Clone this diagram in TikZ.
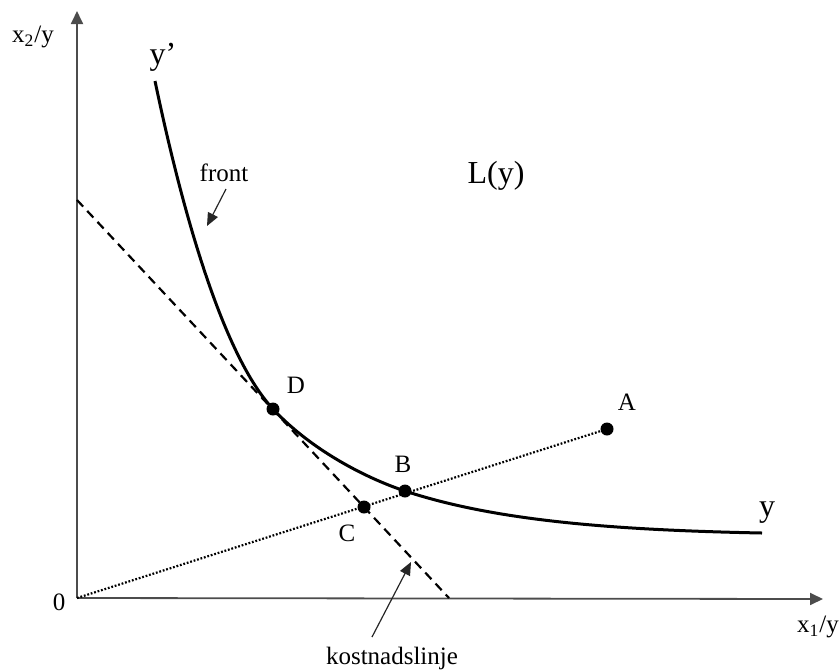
\documentclass[tikz,border=0pt]{standalone}
\usepackage{fontspec}
\setmainfont{Liberation Serif}
\usetikzlibrary{arrows.meta}
\begin{document}
\begin{tikzpicture}[x=0.5pt, y=-0.5pt,
  axis/.style={black!70, line width=0.9pt, -{Triangle[length=6.5pt, width=6pt]}},
  pointer/.style={black!85, line width=0.6pt, -{Triangle[length=6.5pt, width=5.5pt]}},
  isoquant/.style={line width=1.5pt},
  costline/.style={line width=1.1pt, dash pattern=on 4.5pt off 3pt},
  ray/.style={line width=1.1pt, dash pattern=on 0.9pt off 0.9pt},
  dot/.style={circle, fill, inner sep=0pt, minimum size=6.5pt},
  lbl/.style={font=\fontsize{12.5}{15}\selectfont, inner sep=0.5pt},
  biglbl/.style={font=\fontsize{16}{19}\selectfont, inner sep=0.5pt}]
\useasboundingbox (0,0) rectangle (840,671);
\coordinate (O) at (77,598);
\coordinate (ytop) at (77,11);
\coordinate (xend) at (823,599);
\coordinate (costtop) at (77,200);
\coordinate (costbot) at (449,598);
\coordinate (ystart) at (155,81);
\coordinate (yend) at (762,533);
\draw[axis] (O) -- (ytop);
\draw[axis] (O) -- (xend);
\draw[costline] (costtop) -- (costbot);
\node[dot] (D) at (273,409) {};
\node[dot] (B) at (405,491) {};
\node[dot] (C) at (364,507) {};
\node[dot] (A) at (607,429) {};
\draw[isoquant] (ystart) .. controls (177,186) and (218,350) .. (D.center)
  .. controls (313,452) and (370,479.5) .. (B.center)
  .. controls (495,520.7) and (612,530) .. (yend);
\draw[ray] (O) -- (A);
\node[lbl] (Dlbl) at (296,385) {D};
\node[lbl] (Blbl) at (403,464) {B};
\node[lbl] (Clbl) at (347,533) {C};
\node[lbl] (Albl) at (627,402) {A};
\node[biglbl] (yprime) at (163,57) {y’};
\node[biglbl] (ylbl) at (767,513) {y};
\node[biglbl] (Ly) at (496,176) {L(y)};
\node[lbl] (x2lbl) at (33,37) {x\textsubscript{2}/y};
\node[lbl] (x1lbl) at (818,627) {x\textsubscript{1}/y};
\node[lbl] (zero) at (59,602) {0};
\node[lbl] (frontlbl) at (224,173) {front};
\node[lbl] (costlbl) at (392,658) {kostnadslinje};
\coordinate (fronttail) at (226,189);
\coordinate (fronttip) at (207,226);
\coordinate (costtail) at (372,637);
\coordinate (costtip) at (411,562);
\draw[pointer] (fronttail) -- (fronttip);
\draw[pointer] (costtail) -- (costtip);
\end{tikzpicture}
\end{document}
